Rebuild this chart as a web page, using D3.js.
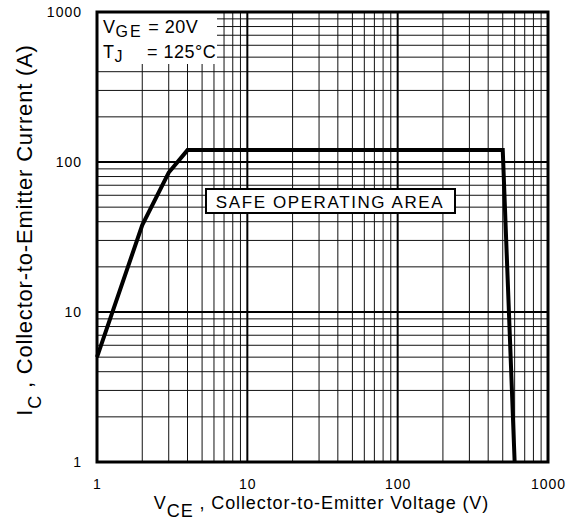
<!DOCTYPE html>
<html>
<head>
<meta charset="utf-8">
<script src="https://cdn.jsdelivr.net/npm/d3@7"></script>
<style>
  body { margin: 0; background: #fff; }
  svg { display: block; font-family: "Liberation Sans", Arial, sans-serif; }
  .tick text { font-size: 14px; letter-spacing: 1px; fill: #000; }
</style>
</head>
<body>
<div class="chart"></div>
<script>
var margin = {top: 12, right: 25, bottom: 69, left: 97},
    width = 573 - margin.left - margin.right,
    height = 531 - margin.top - margin.bottom;

// data
var vceTicks = [1, 10, 100, 1000];
var icTicks = [1, 10, 100, 1000];
var soaVce = [1, 2, 3, 4, 500, 600];
var soaIc = [5, 38, 85, 120, 120, 1];

var x = d3.scaleLog().domain([1, 1000]).range([0, width]);
var y = d3.scaleLog().domain([1, 1000]).range([height, 0]);

var svg = d3.select(".chart").append("svg")
    .attr("width", 573)
    .attr("height", 531)
    .append("g")
    .attr("transform", "translate(" + margin.left + "," + margin.top + ")");

// minor grid lines (2..9 of each decade)
var minor = [];
[1, 10, 100].forEach(function(d){
    for (var k = 2; k <= 9; k++) minor.push(d * k);
});

svg.selectAll(".vminor").data(minor).enter().append("line")
    .attr("x1", function(d){ return x(d); })
    .attr("x2", function(d){ return x(d); })
    .attr("y1", 0).attr("y2", height)
    .attr("stroke", "#111").attr("stroke-width", 1);

svg.selectAll(".hminor").data(minor).enter().append("line")
    .attr("y1", function(d){ return y(d); })
    .attr("y2", function(d){ return y(d); })
    .attr("x1", 0).attr("x2", width)
    .attr("stroke", "#111").attr("stroke-width", 1);

// major grid lines
svg.selectAll(".vmajor").data([10, 100]).enter().append("line")
    .attr("x1", function(d){ return x(d); })
    .attr("x2", function(d){ return x(d); })
    .attr("y1", 0).attr("y2", height)
    .attr("stroke", "#000").attr("stroke-width", 2);

svg.selectAll(".hmajor").data([10, 100]).enter().append("line")
    .attr("y1", function(d){ return y(d); })
    .attr("y2", function(d){ return y(d); })
    .attr("x1", 0).attr("x2", width)
    .attr("stroke", "#000").attr("stroke-width", 2);

// legend box (covers grid)
svg.append("rect")
    .attr("x", 0).attr("y", 0)
    .attr("width", 120).attr("height", 52)
    .attr("fill", "#fff");

var leg = svg.append("g").attr("font-size", "18px").attr("letter-spacing", "0.5px");
var l1 = leg.append("text").attr("x", 6).attr("y", 21);
l1.append("tspan").text("V");
l1.append("tspan").attr("dy", 4).attr("font-size", "16px").attr("letter-spacing", "2px").text("GE");
l1.append("tspan").attr("dy", -4).text(" = 20V");
var l2 = leg.append("text").attr("x", 6).attr("y", 46);
l2.append("tspan").text("T");
l2.append("tspan").attr("dy", 4).attr("font-size", "16px").text("J");
l2.append("tspan").attr("dy", -4).attr("x", 50).text("= 125°C");

// safe operating area curve
var line = d3.line()
    .x(function(d, i){ return x(soaVce[i]); })
    .y(function(d, i){ return y(soaIc[i]); });

svg.append("path")
    .attr("d", line(soaVce))
    .attr("fill", "none")
    .attr("stroke", "#000")
    .attr("stroke-width", 4)
    .attr("stroke-linejoin", "miter");

// label box
var lab = svg.append("g");
lab.append("rect")
    .attr("x", 109).attr("y", 177)
    .attr("width", 249).attr("height", 24)
    .attr("fill", "#fff")
    .attr("stroke", "#000")
    .attr("stroke-width", 2);
lab.append("text")
    .attr("x", 233).attr("y", 196)
    .attr("text-anchor", "middle")
    .attr("font-size", "17px")
    .attr("letter-spacing", "1.6px")
    .text("SAFE OPERATING AREA");

// axes (labels only)
svg.append("g")
    .attr("transform", "translate(0," + height + ")")
    .call(d3.axisBottom(x).tickValues(vceTicks).tickSize(0).tickPadding(17).tickFormat(d3.format("d")))
    .call(function(g){ g.select(".domain").remove(); });

svg.append("g")
    .call(d3.axisLeft(y).tickValues(icTicks).tickSize(0).tickPadding(15).tickFormat(d3.format("d")))
    .call(function(g){ g.select(".domain").remove(); });

// plot border
svg.append("rect")
    .attr("x", 0).attr("y", 0)
    .attr("width", width).attr("height", height)
    .attr("fill", "none")
    .attr("stroke", "#000")
    .attr("stroke-width", 3);

// x axis title
var xt = svg.append("text")
    .attr("x", width / 2 - 1)
    .attr("y", height + 47)
    .attr("text-anchor", "middle")
    .attr("font-size", "18px")
    .attr("letter-spacing", "0.9px");
xt.append("tspan").text("V");
xt.append("tspan").attr("dy", 8).text("CE");
xt.append("tspan").attr("dy", -8).text(" , Collector-to-Emitter Voltage (V)");

// y axis title
var yt = svg.append("text")
    .attr("transform", "translate(-65,218) rotate(-90)")
    .attr("text-anchor", "middle")
    .attr("font-size", "22px")
    .attr("letter-spacing", "0.8px");
yt.append("tspan").text("I");
yt.append("tspan").attr("dy", 9).attr("font-size", "18px").text("C");
yt.append("tspan").attr("dy", -9).text(" , Collector-to-Emitter Current (A)");
</script>
</body>
</html>
